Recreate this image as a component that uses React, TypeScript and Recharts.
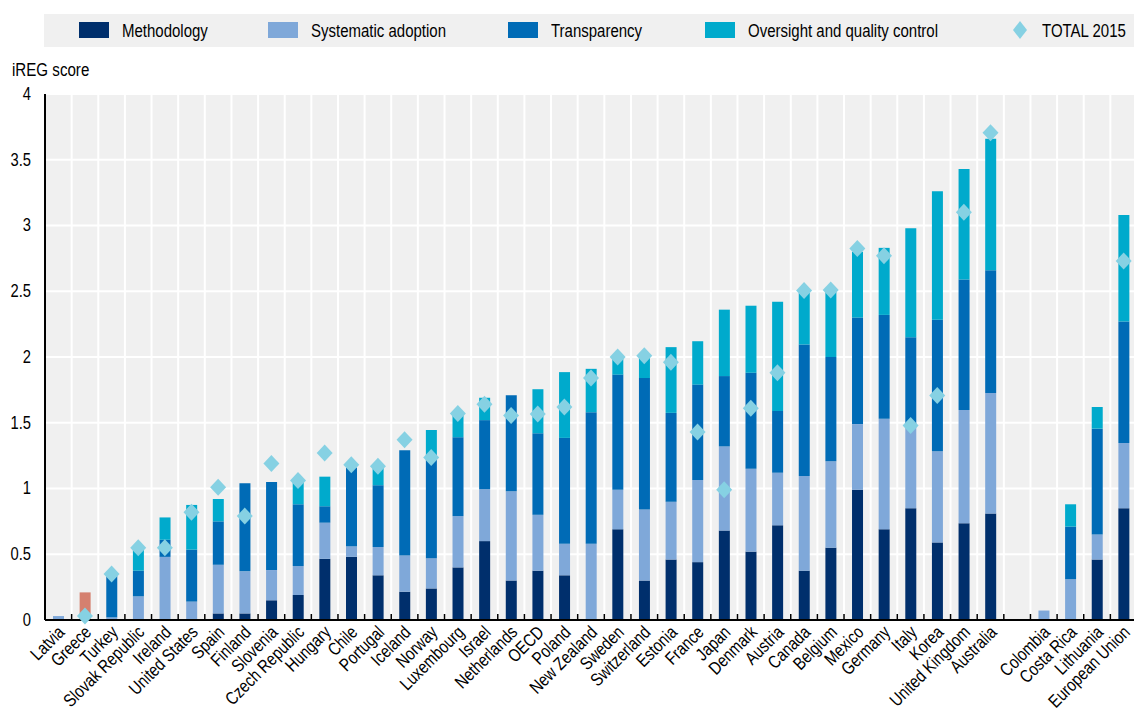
import React from 'react';
import { ComposedChart, Bar, Line, XAxis, YAxis, CartesianGrid } from 'recharts';

const categories = [
  'Latvia', 'Greece', 'Turkey', 'Slovak Republic', 'Ireland', 'United States', 'Spain', 'Finland',
  'Slovenia', 'Czech Republic', 'Hungary', 'Chile', 'Portugal', 'Iceland', 'Norway', 'Luxembourg',
  'Israel', 'Netherlands', 'OECD', 'Poland', 'New Zealand', 'Sweden', 'Switzerland', 'Estonia',
  'France', 'Japan', 'Denmark', 'Austria', 'Canada', 'Belgium', 'Mexico', 'Germany', 'Italy',
  'Korea', 'United Kingdom', 'Australia', '', 'Colombia', 'Costa Rica', 'Lithuania', 'European Union',
];

const methodology = [
  0, 0, 0, 0, 0, 0, 0.05, 0.05, 0.15, 0.19, 0.465, 0.48, 0.34, 0.215, 0.24, 0.40,
  0.60, 0.30, 0.375, 0.34, 0, 0.69, 0.30, 0.46, 0.44, 0.68, 0.52, 0.72, 0.375, 0.55,
  0.99, 0.69, 0.85, 0.59, 0.736, 0.81, null, 0, 0, 0.46, 0.85,
];
const systematicAdoption = [
  0.03, 0, 0.02, 0.18, 0.48, 0.14, 0.37, 0.32, 0.23, 0.22, 0.275, 0.08, 0.215, 0.275, 0.23, 0.39,
  0.395, 0.68, 0.425, 0.24, 0.58, 0.30, 0.54, 0.44, 0.625, 0.64, 0.63, 0.40, 0.72, 0.657,
  0.50, 0.84, 0.636, 0.694, 0.861, 0.916, null, 0.072, 0.31, 0.19, 0.496,
];
const transparency = [
  0, 0, 0.32, 0.195, 0.13, 0.395, 0.33, 0.67, 0.67, 0.47, 0.125, 0.60, 0.47, 0.80, 0.79, 0.60,
  0.525, 0.73, 0.62, 0.805, 1.0, 0.876, 1.0, 0.675, 0.725, 0.535, 0.73, 0.47, 1.0, 0.793,
  0.81, 0.79, 0.664, 1.0, 0.993, 0.934, null, 0, 0.40, 0.805, 0.924,
];
const oversight = [
  0, 0, 0, 0.165, 0.17, 0.34, 0.17, 0, 0, 0.17, 0.225, 0, 0.135, 0, 0.185, 0.17,
  0.17, 0, 0.335, 0.50, 0.33, 0.124, 0.17, 0.50, 0.33, 0.505, 0.51, 0.83, 0.395, 0.505,
  0.50, 0.51, 0.83, 0.976, 0.84, 1.0, null, 0, 0.17, 0.165, 0.81,
];
const greeceOther = [
  0, 0.21, 0, 0, 0, 0, 0, 0, 0, 0, 0, 0, 0, 0, 0, 0,
  0, 0, 0, 0, 0, 0, 0, 0, 0, 0, 0, 0, 0, 0,
  0, 0, 0, 0, 0, 0, null, 0, 0, 0, 0,
];
const total2015 = [
  null, 0.03, 0.35, 0.55, 0.55, 0.82, 1.01, 0.79, 1.19, 1.06, 1.27, 1.18, 1.17, 1.37, 1.235, 1.57,
  1.64, 1.555, 1.566, 1.62, 1.84, 2.0, 2.01, 1.96, 1.43, 0.99, 1.61, 1.88, 2.505, 2.51,
  2.825, 2.77, 1.48, 1.708, 3.10, 3.705, null, null, null, null, 2.73,
];
const yTicks = [0, 0.5, 1, 1.5, 2, 2.5, 3, 3.5, 4];

const data = categories.map((name, i) => ({
  name,
  methodology: methodology[i],
  systematic: systematicAdoption[i],
  transparency: transparency[i],
  oversight: oversight[i],
  other: greeceOther[i],
  total: total2015[i],
}));

const COLORS = {
  methodology: '#002f6c',
  systematic: '#7fa8d9',
  transparency: '#006bb6',
  oversight: '#00aacc',
  total: '#86d1e3',
  other: '#d5806f',
};

const FONT = '"Liberation Sans", Arial, sans-serif';
const NARROW = 0.82;

const CHART_W = 1140;
const CHART_H = 710;
const X_H = 90;
const MARGIN = { top: 94, right: 3, bottom: 0, left: 0 };
const Y_W = 45;
const PLOT_W = CHART_W - MARGIN.right - MARGIN.left - Y_W;
const N = categories.length;

const XTick = (props: any) => {
  const { x, y, payload, index } = props;
  const bw = PLOT_W / N;
  const ax = y;
  const tx = x + 4;
  const ty = y + 10;
  return (
    <g>
      {index === 0 && (
        <line x1={x - bw / 2} x2={x - bw / 2} y1={ax} y2={ax - 6} stroke="#000" strokeWidth={1.5} />
      )}
      <line x1={x + bw / 2} x2={x + bw / 2} y1={ax} y2={ax - 6} stroke="#000" strokeWidth={1.5} />
      <text
        transform={`translate(${tx} ${ty}) rotate(-45) scale(${NARROW} 1)`}
        x={0}
        y={0}
        textAnchor="end"
        dominantBaseline="middle"
        fontFamily={FONT}
        fontSize={18}
        fill="#000"
      >
        {payload.value}
      </text>
    </g>
  );
};

const YTick = (props: any) => {
  const { x, y, payload } = props;
  return (
    <text
      transform={`translate(${x} ${y + 1}) scale(${NARROW} 1)`}
      x={0}
      y={0}
      textAnchor="end"
      dominantBaseline="middle"
      fontFamily={FONT}
      fontSize={18}
      fill="#000"
    >
      {String(payload.value)}
    </text>
  );
};

const Diamond = (props: any) => {
  const { cx, cy, value, index } = props;
  if (value == null || cx == null || cy == null || isNaN(cy)) return <g key={`d${index}`} />;
  return (
    <path
      key={`d${index}`}
      d={`M${cx},${cy - 8.5} L${cx + 8},${cy} L${cx},${cy + 8.5} L${cx - 8},${cy} Z`}
      fill={COLORS.total}
    />
  );
};

const legendItems = [
  { label: 'Methodology', color: COLORS.methodology, left: 79 },
  { label: 'Systematic adoption', color: COLORS.systematic, left: 268 },
  { label: 'Transparency', color: COLORS.transparency, left: 508 },
  { label: 'Oversight and quality control', color: COLORS.oversight, left: 705 },
];

const narrowText = (left: number, top: number, text: string, size: number, sx: number) => (
  <div
    style={{
      position: 'absolute',
      left,
      top,
      fontSize: size,
      lineHeight: '22px',
      color: '#000',
      whiteSpace: 'nowrap',
      transform: `scaleX(${sx})`,
      transformOrigin: 'left center',
    }}
  >
    {text}
  </div>
);

export default function App() {
  return (
    <div
      style={{
        position: 'absolute',
        left: 0,
        top: 0,
        width: 1134,
        height: 710,
        overflow: 'hidden',
        background: '#fff',
        fontFamily: FONT,
      }}
    >
      <div
        style={{
          position: 'absolute',
          left: 44,
          top: 14,
          width: 1090,
          height: 33,
          background: '#f0f0f0',
        }}
      />
      {legendItems.map((it) => (
        <React.Fragment key={it.label}>
          <div
            style={{
              position: 'absolute',
              left: it.left,
              top: 22,
              width: 30,
              height: 16,
              background: it.color,
            }}
          />
          {narrowText(it.left + 43, 20, it.label, 18.3, NARROW)}
        </React.Fragment>
      ))}
      <svg style={{ position: 'absolute', left: 1011, top: 20 }} width={18} height={20}>
        <path d="M9,1 L16,10 L9,19 L2,10 Z" fill={COLORS.total} />
      </svg>
      {narrowText(1042, 20, 'TOTAL 2015', 18.3, NARROW)}
      {narrowText(12, 59, 'iREG score', 18, 0.84)}
      <div style={{ position: 'absolute', left: 0, top: 0 }}>
        <ComposedChart width={CHART_W} height={CHART_H} data={data} margin={MARGIN} barGap={0}>
          <CartesianGrid
            fill="#f0f0f0"
            stroke="#ffffff"
            strokeWidth={2}
            verticalCoordinatesGenerator={({ offset }: any) =>
              Array.from({ length: N + 1 }, (_, i) => offset.left + (i * offset.width) / N)
            }
          />
          <XAxis
            dataKey="name"
            interval={0}
            tickLine={false}
            tickSize={0}
            tickMargin={0}
            axisLine={{ stroke: '#000', strokeWidth: 2 }}
            tick={<XTick />}
            height={X_H}
          />
          <YAxis
            width={Y_W}
            domain={[0, 4]}
            ticks={yTicks}
            tickLine={false}
            tickSize={0}
            tickMargin={14}
            axisLine={{ stroke: '#000', strokeWidth: 2 }}
            tick={<YTick />}
          />
          <Bar dataKey="methodology" stackId="a" barSize={11} fill={COLORS.methodology} isAnimationActive={false} />
          <Bar dataKey="systematic" stackId="a" barSize={11} fill={COLORS.systematic} isAnimationActive={false} />
          <Bar dataKey="transparency" stackId="a" barSize={11} fill={COLORS.transparency} isAnimationActive={false} />
          <Bar dataKey="oversight" stackId="a" barSize={11} fill={COLORS.oversight} isAnimationActive={false} />
          <Bar dataKey="other" stackId="a" barSize={11} fill={COLORS.other} isAnimationActive={false} />
          <Line
            dataKey="total"
            stroke="none"
            dot={Diamond}
            activeDot={false}
            isAnimationActive={false}
            connectNulls={false}
          />
        </ComposedChart>
      </div>
    </div>
  );
}
